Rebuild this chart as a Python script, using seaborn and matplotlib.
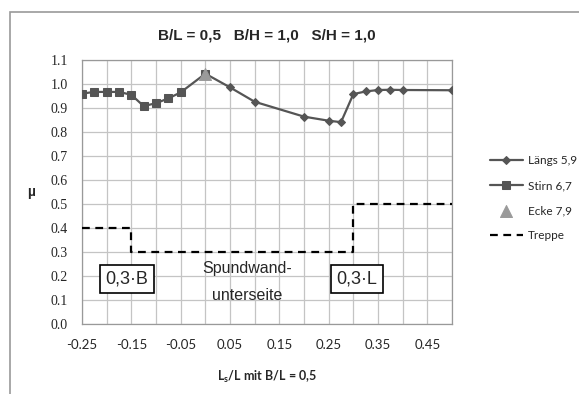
import numpy as np
import pandas as pd
import matplotlib
matplotlib.use("Agg")
import matplotlib.pyplot as plt
from matplotlib.patches import Rectangle
import seaborn as sns

# Data
laengs_x = [0.0, 0.05, 0.1, 0.2, 0.25, 0.275, 0.3, 0.325, 0.35, 0.375, 0.4, 0.5]
laengs_y = [1.043, 0.986, 0.926, 0.864, 0.847, 0.841, 0.958, 0.969, 0.975, 0.976, 0.975, 0.974]

stirn_x = [-0.25, -0.225, -0.2, -0.175, -0.15, -0.125, -0.1, -0.075, -0.05, 0.0]
stirn_y = [0.96, 0.967, 0.967, 0.967, 0.955, 0.908, 0.92, 0.94, 0.965, 1.043]

ecke_x = [0.0]
ecke_y = [1.043]

treppe_x = [-0.25, -0.15, 0.3, 0.5]
treppe_y = [0.4, 0.3, 0.5, 0.5]

x_ticks = [-0.25, -0.15, -0.05, 0.05, 0.15, 0.25, 0.35, 0.45]
y_ticks = [0.0, 0.1, 0.2, 0.3, 0.4, 0.5, 0.6, 0.7, 0.8, 0.9, 1.0, 1.1]

sns.set_style("white")
plt.rcParams['font.family'] = ['Liberation Sans', 'DejaVu Sans']

fig = plt.figure(figsize=(5.79, 3.94), dpi=100)
ax = fig.add_axes([0.1416, 0.1777, 0.6391, 0.67])

# Outer chart frame
fig.patches.append(Rectangle((0.0173, -0.02), 1.2, 1 - 12 / 394 + 0.02,
                             transform=fig.transFigure, fill=False,
                             edgecolor='#9a9a9a', linewidth=1.2))

line_col = '#555555'

sns.lineplot(x=treppe_x, y=treppe_y, ax=ax, color='black', linestyle=(0, (3.5, 2.5)),
             linewidth=1.6, drawstyle='steps-post', estimator=None, sort=False,
             label='Treppe', zorder=3)
sns.lineplot(x=stirn_x, y=stirn_y, ax=ax, color=line_col, marker='s', markersize=6,
             markeredgecolor=line_col, linewidth=1.6, estimator=None, sort=False,
             label='Stirn 6,7', zorder=4)
sns.lineplot(x=laengs_x, y=laengs_y, ax=ax, color=line_col, marker='D', markersize=4.5,
             markeredgecolor=line_col, linewidth=1.6, estimator=None, sort=False,
             label='Längs 5,9', zorder=4)
sns.scatterplot(x=ecke_x, y=ecke_y, ax=ax, color='#9a9a9a', marker='^', s=75,
                edgecolor='#9a9a9a', label='Ecke 7,9', zorder=5)

ax.set_xlim(-0.25, 0.5)
ax.set_ylim(0.0, 1.1)
ax.set_xticks(x_ticks)
ax.set_xticklabels([f"{t:.2f}" for t in x_ticks], fontsize=9.5, family=['Lato', 'DejaVu Sans'])
ax.set_xticks(np.arange(-0.25, 0.501, 0.05), minor=True)
ax.set_yticks(y_ticks)
ax.set_yticklabels([f"{t:.1f}" for t in y_ticks], fontsize=10, family=['Liberation Serif', 'DejaVu Serif'])
ax.grid(True, which='both', color='#c4c4c4', linewidth=0.9)
ax.tick_params(axis='x', which='both', direction='out', length=4, color='#888888', pad=7)
ax.tick_params(axis='y', which='major', direction='out', length=4, color='#888888', pad=6)
for s in ax.spines.values():
    s.set_color('#999999')
    s.set_linewidth(0.9)

ax.set_title("B/L = 0,5   B/H = 1,0   S/H = 1,0", fontsize=11, fontweight='bold', pad=15)
ax.set_xlabel("L$_\\mathregular{s}$/L mit B/L = 0,5", fontsize=9, fontweight='bold',
              family=['Lato', 'DejaVu Sans'], labelpad=13)
ax.set_ylabel("µ", fontsize=10, fontweight='bold', rotation=0, labelpad=14, va='center')

# Annotations
box = dict(boxstyle='square,pad=0.3', facecolor='white', edgecolor='black', linewidth=1.2)
ax.text(-0.159, 0.187, "0,3·B", fontsize=13, ha='center', va='center', bbox=box, zorder=6)
ax.text(0.307, 0.187, "0,3·L", fontsize=13, ha='center', va='center', bbox=box, zorder=6)
ax.text(0.085, 0.233, "Spundwand-", fontsize=11.5, ha='center', va='center', zorder=6)
ax.text(0.085, 0.117, "unterseite", fontsize=11.5, ha='center', va='center', zorder=6)

handles, labels = ax.get_legend_handles_labels()
order = [labels.index(l) for l in ['Längs 5,9', 'Stirn 6,7', 'Ecke 7,9', 'Treppe']]
leg = ax.legend([handles[i] for i in order], [labels[i] for i in order],
                loc='center left', bbox_to_anchor=(1.08, 0.477), frameon=False,
                handlelength=2.8, labelspacing=1.2, handletextpad=0.45, borderaxespad=0.3,
                prop={'family': ['Lato', 'DejaVu Sans'], 'size': 8.5})

fig.savefig('out.png', dpi=100)
